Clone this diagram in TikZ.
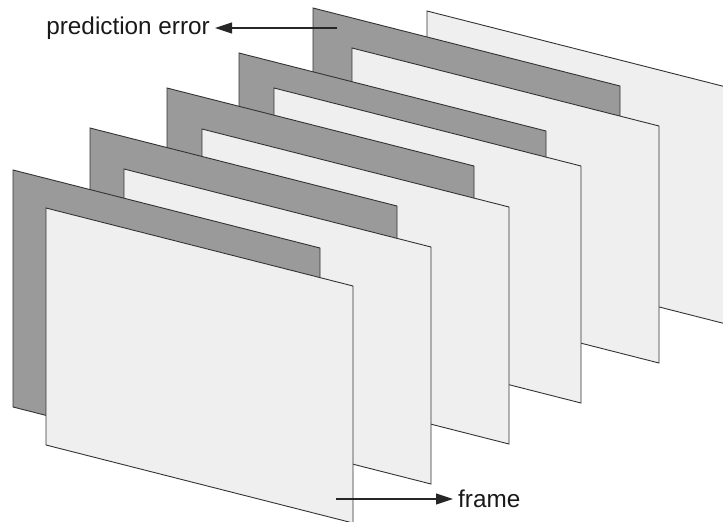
\documentclass[tikz,border=0pt]{standalone}
\usepackage{fontspec}
\setmainfont{Liberation Sans}
\usepackage{tikz}
\usetikzlibrary{arrows.meta,positioning}
\definecolor{errgray}{HTML}{9A9A9A}
\definecolor{framegray}{HTML}{EFEFEF}
\tikzset{sheet/.style={draw=black!80,line width=0.9pt,line join=miter},
	error sheet/.style={sheet,fill=errgray},
	frame sheet/.style={sheet,fill=framegray},
	pointer/.style={-{Triangle[length=17pt,width=11pt]},line width=1.1pt,black!85},
	caption text/.style={inner sep=5pt,font=\fontsize{24.3pt}{29pt}\selectfont,text=black!90}}
% one tilted sheet, top left corner given
\newcommand{\sheet}[3]{\path[#1] (#2,#3) -- ++(307,78) -- ++(0,237) -- ++(-307,-78) -- cycle;}

\begin{document}
\begin{tikzpicture}[x=1pt,y=-1pt]
	
	\clip (0,0) rectangle (723,522);
	
	% back to front
	\sheet{frame sheet}{427}{11}
	\foreach \ex/\ey/\fx/\fy in {313/8/352/48, 239/53/274/88, 167/88/202/129, 90/128/124/169, 13/170/46/208}{
		\sheet{error sheet}{\ex}{\ey}
		\sheet{frame sheet}{\fx}{\fy}
	}
	
	\coordinate (errtail) at (337,28);
	\coordinate (frametail) at (336,499);
	
	\node[caption text, left=122pt of errtail] (errlabel) {prediction error};
	\node[caption text, right=117pt of frametail] (framelabel) {frame};
	
	\draw[pointer] (errtail) -- (errlabel);
	\draw[pointer] (frametail) -- (framelabel);
	
\end{tikzpicture}
\end{document}
